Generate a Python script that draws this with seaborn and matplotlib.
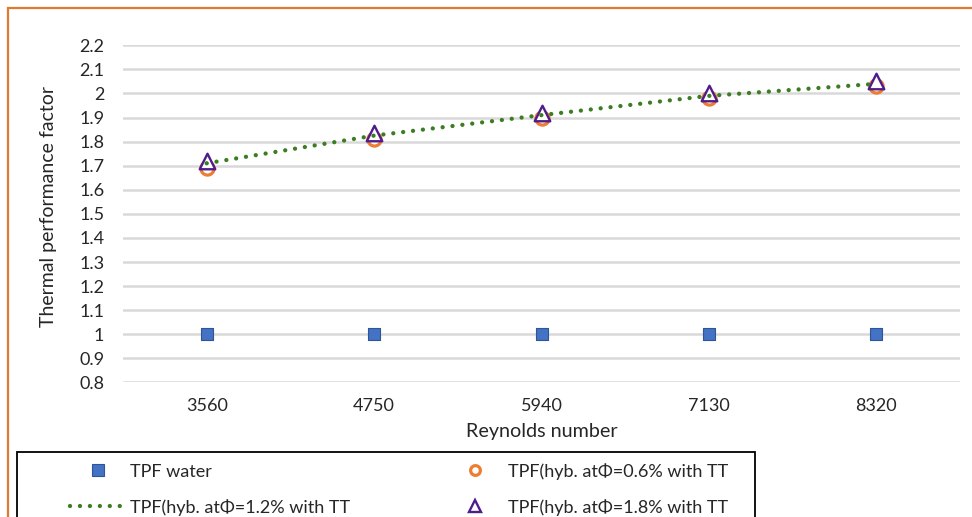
import numpy as np
import pandas as pd
import seaborn as sns
import matplotlib.pyplot as plt
from matplotlib.patches import Rectangle
from matplotlib.lines import Line2D

# values
reynolds = ['3560', '4750', '5940', '7130', '8320']
tpf_water = [1.0, 1.0, 1.0, 1.0, 1.0]
tpf_06 = [1.69, 1.81, 1.90, 1.98, 2.03]
tpf_12 = [1.71, 1.825, 1.91, 1.99, 2.04]
tpf_18 = [1.72, 1.835, 1.92, 2.00, 2.05]
yticks = [0.8, 0.9, 1.0, 1.1, 1.2, 1.3, 1.4, 1.5, 1.6, 1.7, 1.8, 1.9, 2.0, 2.1, 2.2]
series_names = ['TPF water', 'TPF(hyb. atΦ=0.6% with TT',
                'TPF(hyb. atΦ=1.2% with TT', 'TPF(hyb. atΦ=1.8% with TT']

c_blue, c_blue_edge = '#4472C4', '#2F5597'
c_orange = '#ED7D31'
c_green = '#3B7D23'
c_purple = '#4F1C8C'
txt = '#262626'
dots = (0, (0.01, 2.3))

sns.set_theme(style='white')
plt.rcParams['font.family'] = ['Lato', 'DejaVu Sans']

fig = plt.figure(figsize=(9.72, 5.17), dpi=100)
W, H = 972, 517
ax = fig.add_axes([123 / W, 1 - 382.4 / H, (960 - 123) / W, (382.4 - 45.3) / H])

sns.scatterplot(x=reynolds, y=tpf_water, marker='s', s=75, color=c_blue,
                edgecolor=c_blue_edge, linewidth=0.8, ax=ax, zorder=3)
sns.scatterplot(x=reynolds, y=tpf_06, marker='o', s=90, facecolor='white',
                edgecolor=c_orange, linewidth=2.3, ax=ax, zorder=4)
sns.scatterplot(x=reynolds, y=tpf_18, marker='^', s=125, facecolor='white',
                edgecolor=c_purple, linewidth=1.7, ax=ax, zorder=5)
sns.lineplot(x=reynolds, y=tpf_12, color=c_green, linewidth=3.1, sort=False,
             linestyle=dots, dash_capstyle='round', ax=ax, zorder=6)

ax.set_xlim(-0.5, 4.5)
ax.set_ylim(0.8, 2.2)
ax.set_yticks(yticks)
ax.set_yticklabels([f'{v:g}' for v in yticks])
ax.yaxis.grid(True, color='#d9d9d9', linewidth=1.8)
ax.xaxis.grid(False)
ax.set_axisbelow(True)
for sp in ax.spines.values():
    sp.set_visible(False)
ax.tick_params(axis='y', length=0, pad=13.5, labelsize=13, labelcolor=txt)
ax.tick_params(axis='x', length=0, pad=11, labelsize=13, labelcolor=txt)
ax.set_xlabel('Reynolds number', fontsize=14.2, color=txt, labelpad=7)
ax.set_ylabel('Thermal performance factor', fontsize=14, color=txt)
ax.yaxis.set_label_coords((57 - 123) / 837, (382.4 - 206) / 337.1)

# legend (column-first order)
h_water = Line2D([], [], marker='s', linestyle='none', markersize=8.5,
                 markerfacecolor=c_blue, markeredgecolor=c_blue_edge, markeredgewidth=0.8)
h_06 = Line2D([], [], marker='o', linestyle='none', markersize=7,
              markerfacecolor='white', markeredgecolor=c_orange, markeredgewidth=2.3)
h_12 = Line2D([], [], color=c_green, linewidth=3.1, linestyle=dots,
              dash_capstyle='round')
h_18 = Line2D([], [], marker='^', linestyle='none', markersize=8,
              markerfacecolor='white', markeredgecolor=c_purple, markeredgewidth=1.7)
fig.legend([h_water, h_12, h_06, h_18],
           [series_names[0], series_names[2], series_names[1], series_names[3]],
           ncol=2, loc='upper left', bbox_to_anchor=(70 / W, 1 - 463 / H),
           frameon=False, fontsize=13, handlelength=3.05, handletextpad=0.28,
           columnspacing=5.4, labelspacing=1.05, borderpad=0, borderaxespad=0,
           labelcolor=txt)

# legend box and outer chart frame
fig.add_artist(Rectangle((17 / W, -0.1), (755 - 17) / W, 0.1 + 1 - 452 / H,
                         transform=fig.transFigure, fill=False, ec='black', lw=1.3))
fig.add_artist(Rectangle((8 / W, -0.1), 1.2, 0.1 + 1 - 8 / H,
                         transform=fig.transFigure, fill=False, ec='#E07A2E', lw=1.6))

fig.savefig('out.png', dpi=100)
